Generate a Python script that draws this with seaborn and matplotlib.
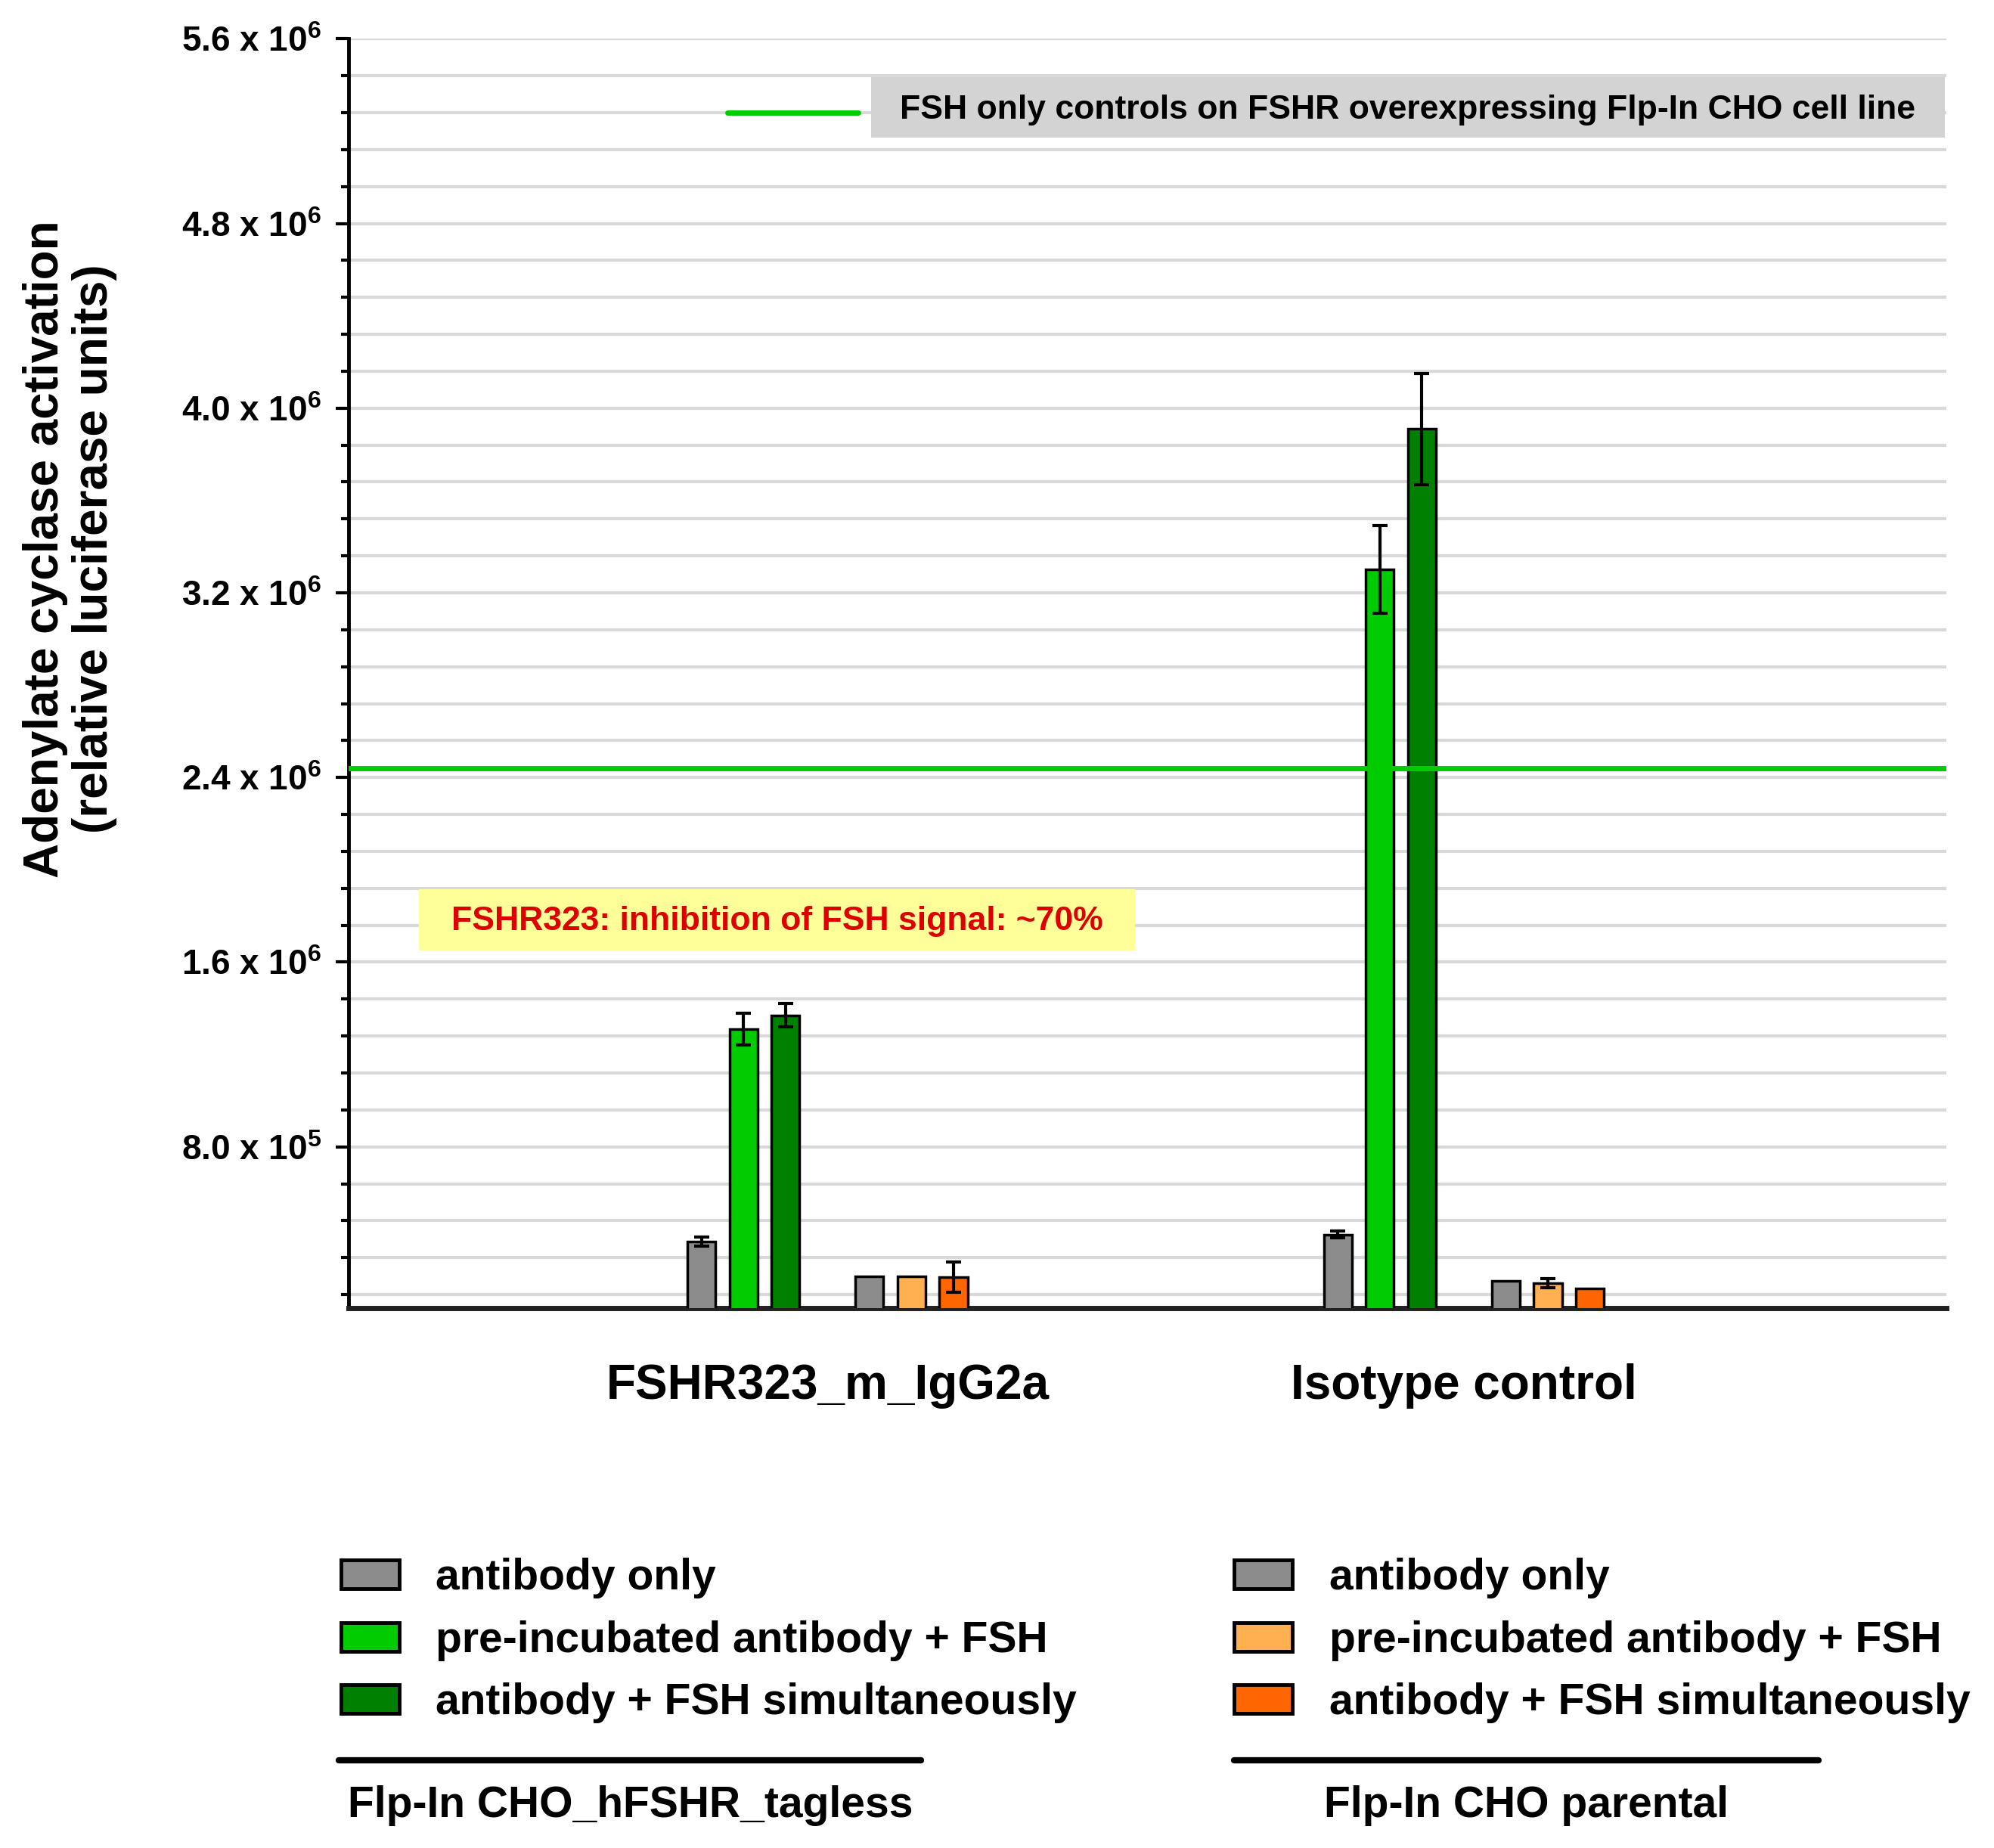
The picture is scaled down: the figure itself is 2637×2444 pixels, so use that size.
import pandas as pd
import numpy as np
import matplotlib
matplotlib.use('Agg')
import matplotlib.pyplot as plt
import seaborn as sns
from matplotlib.patches import Patch, Rectangle
from matplotlib.lines import Line2D
from matplotlib.ticker import MultipleLocator, FixedLocator

# ---- data (values in relative luciferase units) ----
antibodies = ['FSHR323_m_IgG2a', 'Isotype control']
conditions = ['tagless antibody only', 'tagless pre-incubated', 'tagless simultaneous',
              'spacer',
              'parental antibody only', 'parental pre-incubated', 'parental simultaneous']
tagless_only = [0.39e6, 0.42e6]
tagless_pre = [1.31e6, 3.30e6]
tagless_sim = [1.37e6, 3.91e6]
parental_only = [0.24e6, 0.22e6]
parental_pre = [0.24e6, 0.21e6]
parental_sim = [0.235e6, 0.185e6]

tagless_only_err = [0.02e6, 0.015e6]
tagless_pre_err = [0.07e6, 0.19e6]
tagless_sim_err = [0.05e6, 0.24e6]
parental_only_err = [0.0, 0.0]
parental_pre_err = [0.0, 0.02e6]
parental_sim_err = [0.065e6, 0.0]

fsh_control = 2.44e6

legend_labels = ['antibody only', 'pre-incubated antibody + FSH', 'antibody + FSH simultaneously']
cell_lines = ['Flp-In CHO_hFSHR_tagless', 'Flp-In CHO parental']
ytick_values = [0.8e6, 1.6e6, 2.4e6, 3.2e6, 4.0e6, 4.8e6, 5.6e6]
ytick_labels = ['8.0 x 10$^{5}$', '1.6 x 10$^{6}$', '2.4 x 10$^{6}$', '3.2 x 10$^{6}$',
                '4.0 x 10$^{6}$', '4.8 x 10$^{6}$', '5.6 x 10$^{6}$']

colors = {
    'tagless antibody only': '#8c8c8c',
    'tagless pre-incubated': '#00cc00',
    'tagless simultaneous': '#008000',
    'spacer': 'white',
    'parental antibody only': '#8c8c8c',
    'parental pre-incubated': '#ffb050',
    'parental simultaneous': '#ff6600',
}

series = {
    'tagless antibody only': (tagless_only, tagless_only_err),
    'tagless pre-incubated': (tagless_pre, tagless_pre_err),
    'tagless simultaneous': (tagless_sim, tagless_sim_err),
    'parental antibody only': (parental_only, parental_only_err),
    'parental pre-incubated': (parental_pre, parental_pre_err),
    'parental simultaneous': (parental_sim, parental_sim_err),
}

rows = []
for cond, (vals, errs) in series.items():
    for ab, v, e in zip(antibodies, vals, errs):
        rows.append({'antibody': ab, 'condition': cond, 'value': v, 'err': e})
df = pd.DataFrame(rows)

sns.set_style('white')
plt.rcParams['font.family'] = ['Liberation Sans', 'DejaVu Sans']
plt.rcParams['font.weight'] = 'bold'
plt.rcParams['text.color'] = 'black'
plt.rcParams['xtick.color'] = 'black'
plt.rcParams['ytick.color'] = 'black'
plt.rcParams['mathtext.fontset'] = 'custom'
plt.rcParams['mathtext.rm'] = 'Liberation Sans:bold'
plt.rcParams['mathtext.it'] = 'Liberation Sans:bold'
plt.rcParams['mathtext.bf'] = 'Liberation Sans:bold'

fig = plt.figure(figsize=(26.37, 24.44), dpi=100)
ax = fig.add_axes([0.175, 0.292, 0.801, 0.687])

sns.barplot(data=df, x='antibody', y='value', hue='condition', order=antibodies,
            hue_order=conditions, palette=colors, width=0.462, gap=0.33, saturation=1,
            errorbar=None, edgecolor='black', linewidth=2.5, legend=False, ax=ax,
            zorder=3)

# error bars on top of the bars, matched per category by position
bar_conds = [c for c in conditions if c != 'spacer']
patches = [p for p in ax.patches if p.get_height() > 0]
for i, ab in enumerate(antibodies):
    cat_bars = [p for p in patches if abs(p.get_x() + p.get_width() / 2 - i) < 0.5]
    cat_bars.sort(key=lambda p: p.get_x())
    for p, cond in zip(cat_bars, bar_conds):
        row = df[(df['antibody'] == ab) & (df['condition'] == cond)].iloc[0]
        if row['err'] > 0:
            ax.errorbar(p.get_x() + p.get_width() / 2, row['value'], yerr=row['err'],
                        fmt='none', ecolor='black', elinewidth=3, capsize=7,
                        capthick=3, zorder=4)

ax.axhline(fsh_control, color='#00cc00', lw=5, zorder=3.5)

ax.set_xlim(-0.752, 1.758)
ax.set_ylim(1e5, 5.6e6)
ax.yaxis.set_major_locator(FixedLocator(ytick_values))
ax.yaxis.set_minor_locator(MultipleLocator(0.16e6))
ax.set_yticklabels(ytick_labels, fontsize=33, fontweight='bold')
ax.grid(which='both', axis='y', color='#d9d9d9', lw=3, zorder=0)
ax.set_axisbelow(True)
ax.tick_params(axis='y', which='major', direction='out', length=12, width=3, left=True, pad=14)
ax.tick_params(axis='y', which='minor', direction='out', length=7, width=3, left=True)
ax.tick_params(axis='x', length=0, pad=52)
ax.set_xticklabels(antibodies, fontsize=46, fontweight='bold')
ax.set_xlabel('')
ax.set_ylabel('')
for side in ['top', 'right']:
    ax.spines[side].set_visible(False)
ax.spines['left'].set_linewidth(3.5)
ax.spines['left'].set_color('black')
ax.spines['bottom'].set_linewidth(5)
ax.spines['bottom'].set_color('#222222')

# header annotation: short green line + grey box
ax.add_line(Line2D([0.237, 0.319], [0.942, 0.942], transform=ax.transAxes,
                   color='#00cc00', lw=5, zorder=5))
ax.add_patch(Rectangle((0.327, 0.922), 0.672, 0.048, transform=ax.transAxes,
                       facecolor='#d3d3d3', edgecolor='none', zorder=5))
ax.text(0.663, 0.944, 'FSH only controls on FSHR overexpressing Flp-In CHO cell line',
        transform=ax.transAxes, ha='center', va='center', fontsize=32,
        fontweight='bold', color='black', zorder=6)

# inhibition note
ax.add_patch(Rectangle((0.044, 0.282), 0.448, 0.048, transform=ax.transAxes,
                       facecolor='#ffff99', edgecolor='none', zorder=5))
ax.text(0.268, 0.305, 'FSHR323: inhibition of FSH signal: ~70%', transform=ax.transAxes,
        ha='center', va='center', fontsize=32, fontweight='bold', color='#dd0000', zorder=6)

fig.text(0.035, 0.703, 'Adenylate cyclase activation\n(relative luciferase units)',
         rotation=90, ha='center', va='center', fontsize=46, fontweight='bold',
         linespacing=1.1)

# two legends, one per cell line
left_conds = ['tagless antibody only', 'tagless pre-incubated', 'tagless simultaneous']
right_conds = ['parental antibody only', 'parental pre-incubated', 'parental simultaneous']
legend_kw = dict(frameon=False, handlelength=1.35, handleheight=0.65,
                 handletextpad=0.85, labelspacing=0.5, borderpad=0, borderaxespad=0,
                 loc='upper left', prop={'weight': 'bold', 'size': 41})
for conds, x0 in [(left_conds, 0.171), (right_conds, 0.619)]:
    handles = [Patch(facecolor=colors[c], edgecolor='black', lw=3.5) for c in conds]
    fig.legend(handles, legend_labels, bbox_to_anchor=(x0, 0.157), **legend_kw)

for (x0, x1), name in zip([(0.170, 0.462), (0.619, 0.912)], cell_lines):
    fig.add_artist(Line2D([x0, x1], [0.0475, 0.0475], transform=fig.transFigure,
                          color='black', lw=6))
    fig.text((x0 + x1) / 2, 0.023, name, ha='center', va='center', fontsize=41,
             fontweight='bold')

fig.savefig('out.png', dpi=100, facecolor='white')
